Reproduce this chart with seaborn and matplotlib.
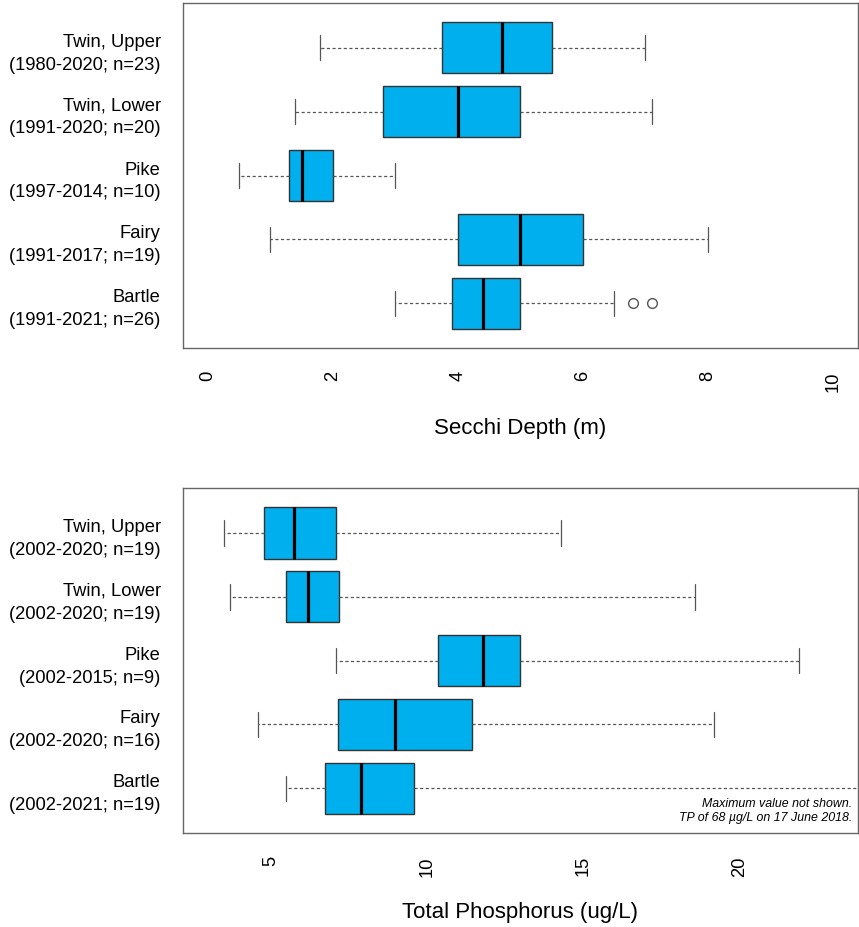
import numpy as np
import pandas as pd
import matplotlib
matplotlib.use('Agg')
import matplotlib.pyplot as plt
import seaborn as sns

lakes = ['Twin, Upper', 'Twin, Lower', 'Pike', 'Fairy', 'Bartle']

# Secchi depth (m): five-number summaries
secchi_periods = ['1980-2020; n=23', '1991-2020; n=20', '1997-2014; n=10',
                  '1991-2017; n=19', '1991-2021; n=26']
secchi_min = [1.8, 1.4, 0.5, 1.0, 3.0]
secchi_q1 = [3.75, 2.8, 1.3, 4.0, 3.9]
secchi_med = [4.7, 4.0, 1.5, 5.0, 4.4]
secchi_q3 = [5.5, 5.0, 2.0, 6.0, 5.0]
secchi_max = [7.0, 7.1, 3.0, 8.0, 6.5]
bartle_secchi_outliers = [6.8, 7.1]

# Total phosphorus (ug/L)
tp_periods = ['2002-2020; n=19', '2002-2020; n=19', '2002-2015; n=9',
              '2002-2020; n=16', '2002-2021; n=19']
tp_min = [3.5, 3.7, 7.1, 4.6, 5.5]
tp_q1 = [4.8, 5.5, 10.35, 7.15, 6.75]
tp_med = [5.75, 6.2, 11.8, 9.0, 7.9]
tp_q3 = [7.1, 7.2, 13.0, 11.45, 9.6]
tp_max = [14.3, 18.6, 21.9, 19.2, 68.0]

fill = '#00B0EE'
edge = '#333333'
grey = '#555555'


def summary_frame(periods, *cols):
    rows = []
    for i, lake in enumerate(lakes):
        lab = f'{lake}\n({periods[i]})'
        for c in cols:
            rows.append({'label': lab, 'value': c[i]})
    return pd.DataFrame(rows)


def draw_panel(ax, df, order):
    sns.boxplot(data=df, x='value', y='label', order=order, ax=ax,
                whis=(0, 100), width=0.8, color=fill, saturation=1,
                linecolor=edge, linewidth=1, showfliers=False,
                whiskerprops=dict(color=grey, linestyle=(0, (2.5, 2)), linewidth=0.9),
                capprops=dict(color=grey, linewidth=0.9),
                medianprops=dict(color='black', linewidth=2.3))
    ax.set_ylim(4.7, -0.7)
    ax.set_ylabel('')
    ax.tick_params(axis='y', labelsize=13.2, pad=8, length=8, color=grey, width=1,
                   labelcolor='black')
    ax.tick_params(axis='x', labelsize=13.2, pad=8, length=8, color=grey, width=1,
                   labelrotation=90, labelcolor='black')
    for t in ax.get_yticklabels():
        t.set_linespacing(1.45)
    for s in ax.spines.values():
        s.set_visible(True)
        s.set_color('#666666')
        s.set_linewidth(1)


sns.set_theme(style='white')
plt.rcParams['font.family'] = ['Liberation Sans', 'DejaVu Sans']
plt.rcParams['text.color'] = 'black'
plt.rcParams['axes.labelcolor'] = 'black'

fig = plt.figure(figsize=(8.59, 9.28), dpi=100)
ax1 = fig.add_axes([0.2130, 0.6239, 0.7858, 0.3718])
ax2 = fig.add_axes([0.2130, 0.1013, 0.7858, 0.3714])

##Secchi depth
secchi_df = summary_frame(secchi_periods, secchi_min, secchi_q1, secchi_med, secchi_q3, secchi_max)
order1 = list(secchi_df['label'].unique())
out_df = pd.DataFrame({'label': [order1[lakes.index('Bartle')]] * len(bartle_secchi_outliers),
                       'value': bartle_secchi_outliers})
sns.stripplot(data=out_df, x='value', y='label', order=order1, ax=ax1, jitter=False,
              color='white', edgecolor=grey, linewidth=1, size=7, zorder=3)
draw_panel(ax1, secchi_df, order1)
ax1.set_xlim(-0.4, 10.4)
ax1.set_xticks(np.arange(0, 11, 2))
ax1.set_ylim(4.7, -0.7)
ax1.set_ylabel('')
ax1.set_xlabel('Secchi Depth (m)', fontsize=16, labelpad=19)

##Total phosphorus
tp_df = summary_frame(tp_periods, tp_min, tp_q1, tp_med, tp_q3, tp_max)
order2 = list(tp_df['label'].unique())
draw_panel(ax2, tp_df, order2)
ax2.set_xlim(2.2, 23.8)
ax2.set_xticks([5, 10, 15, 20])
ax2.set_xlabel('Total Phosphorus (ug/L)', fontsize=16, labelpad=18)
ax2.text(0.991, 0.067, 'Maximum value not shown.\nTP of 68 \u00b5g/L on 17 June 2018.',
         transform=ax2.transAxes, ha='right', va='center', fontsize=8.9,
         style='italic', linespacing=1.25)

fig.savefig('out.png', dpi=100)
